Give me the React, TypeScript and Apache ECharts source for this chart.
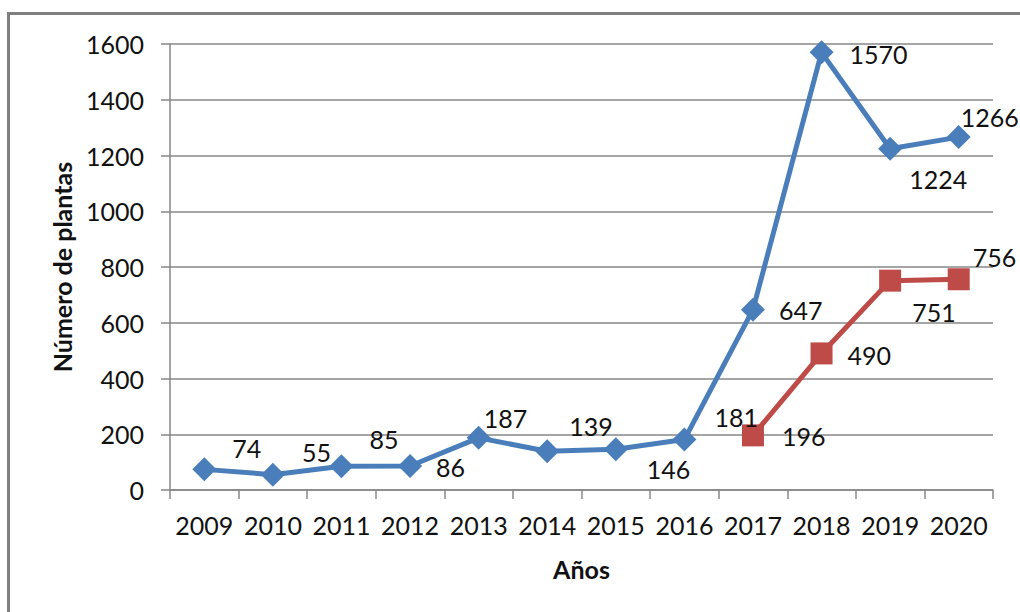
import React, { useEffect, useRef } from "react";
import * as echarts from "echarts";

const years = ["2009", "2010", "2011", "2012", "2013", "2014", "2015", "2016", "2017", "2018", "2019", "2020"];
const blueValues = [74, 55, 85, 86, 187, 139, 146, 181, 647, 1570, 1224, 1266];
const redValues = [null, null, null, null, null, null, null, null, 196, 490, 751, 756];
const blueLabelOffsets: number[][] = [
  [28, -21], [29, -23], [28, -27], [26, 1], [5, -20], [22, -25],
  [31, 20], [30, -23], [26, 0], [28, 2], [19, 30], [2, -20],
];
const redLabelOffsets: number[][] = [
  [0, 0], [0, 0], [0, 0], [0, 0], [0, 0], [0, 0], [0, 0], [0, 0],
  [29, 1], [26, 2], [22, 31], [14, -22],
];

const FONT = "Lato";
const BLUE = "#4A7EBB";
const RED = "#BE4B48";
const GRID = "#878787";

function withLabels(values: (number | null)[], offsets: number[][]) {
  return values.map((v, i) =>
    v === null
      ? null
      : {
          value: v,
          label: {
            show: true,
            position: "inside",
            align: "left",
            verticalAlign: "middle",
            offset: offsets[i],
          },
        }
  );
}

export default function App() {
  const ref = useRef<HTMLDivElement>(null);
  useEffect(() => {
    if (!ref.current) return;
    const chart = echarts.init(ref.current, undefined, { renderer: "svg" });
    const labelStyle = {
      color: "#111",
      fontFamily: FONT,
      fontSize: 25,
      formatter: "{c}",
    };
    chart.setOption({
      animation: false,
      backgroundColor: "#fff",
      graphic: [
        {
          type: "rect",
          shape: { x: 8.5, y: 13.5, width: 1100, height: 700 },
          style: { fill: "none", stroke: "#7f7f7f", lineWidth: 3 },
          silent: true,
        },
      ],
      grid: { left: 170, right: 27, top: 44, bottom: 122 },
      xAxis: {
        type: "category",
        data: years,
        boundaryGap: true,
        name: "Años",
        nameLocation: "middle",
        nameGap: 66,
        nameTextStyle: { fontFamily: FONT, fontSize: 25, fontWeight: "bold", color: "#111" },
        axisLine: { show: true, lineStyle: { color: GRID, width: 1.5 } },
        axisTick: { show: true, length: 9, alignWithLabel: false, lineStyle: { color: GRID, width: 1.5 } },
        axisLabel: { fontFamily: FONT, fontSize: 25, color: "#111", margin: 22, interval: 0 },
        splitLine: { show: false },
      },
      yAxis: {
        type: "value",
        min: 0,
        max: 1600,
        interval: 200,
        name: "Número de plantas",
        nameLocation: "middle",
        nameGap: 96,
        nameTextStyle: { fontFamily: FONT, fontSize: 25, fontWeight: "bold", color: "#111" },
        axisLine: { show: true, lineStyle: { color: GRID, width: 1.5 } },
        axisTick: { show: true, length: 9, lineStyle: { color: GRID, width: 1.5 } },
        axisLabel: {
          fontFamily: FONT,
          fontSize: 25,
          color: "#111",
          margin: 26,
          formatter: (v: number) => String(v),
        },
        splitLine: { show: true, lineStyle: { color: GRID, width: 1.5 } },
      },
      series: [
        {
          type: "line",
          data: withLabels(blueValues, blueLabelOffsets),
          symbol: "diamond",
          symbolSize: 24,
          showAllSymbol: true,
          lineStyle: { color: BLUE, width: 5 },
          itemStyle: { color: BLUE },
          label: labelStyle,
          z: 3,
        },
        {
          type: "line",
          data: withLabels(redValues, redLabelOffsets),
          symbol: "rect",
          symbolSize: 22,
          showAllSymbol: true,
          connectNulls: false,
          lineStyle: { color: RED, width: 5 },
          itemStyle: { color: RED },
          label: labelStyle,
          z: 2,
        },
      ],
    });
    return () => chart.dispose();
  }, []);
  return (
    <div
      ref={ref}
      style={{ position: "fixed", left: 0, top: 0, width: 1020, height: 612 }}
    />
  );
}
